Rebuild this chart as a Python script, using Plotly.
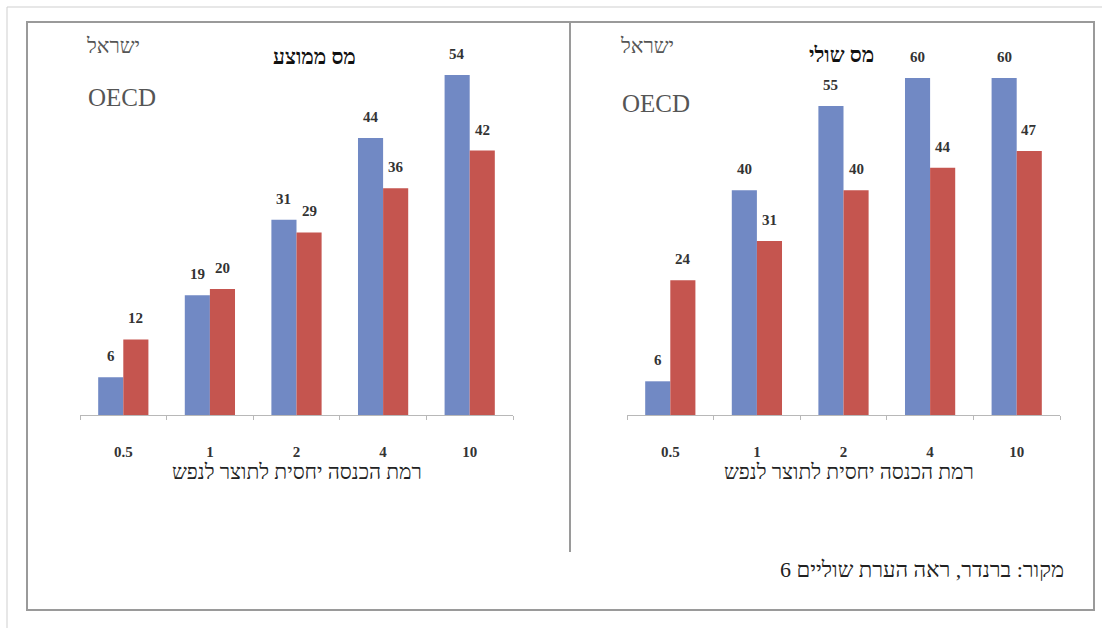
import plotly.graph_objects as go

# Income level relative to GDP per capita
categories = ["0.5", "1", "2", "4", "10"]

# Average tax rate (%)
avg_israel = [6, 19, 31, 44, 54]
avg_oecd = [12, 20, 29, 36, 42]

# Marginal tax rate (%)
marg_israel = [6, 40, 55, 60, 60]
marg_oecd = [24, 31, 40, 44, 47]

panel_titles = ["מס ממוצע", "מס שולי"]
legend_names = ["ישראל", "OECD"]
x_title = "רמת הכנסה יחסית לתוצר לנפש"
source_note = "מקור: ברנדר, ראה הערת שוליים 6"

W, H = 1102, 628
BLUE = "#7189C4"
RED = "#C5554F"
SERIF = "Liberation Serif"


def px(x):
    return x / W


def py(y):
    return 1 - y / H


def note(cx, cy, txt, size, color, bold=False, xanchor="center"):
    return dict(x=px(cx), y=py(cy), xref="paper", yref="paper", text=txt,
                showarrow=False, xanchor=xanchor, yanchor="middle",
                font=dict(family=SERIF, size=size, color=color,
                          weight="bold" if bold else "normal"))


fig = go.Figure()

panels = [
    dict(isr=avg_israel, oecd=avg_oecd, xa="x", ya="y", x0=80, x1=513, top=75, ymax=54),
    dict(isr=marg_israel, oecd=marg_oecd, xa="x2", ya="y2", x0=627, x1=1060, top=78, ymax=60),
]

annotations = []
for i, p in enumerate(panels):
    fig.add_trace(go.Bar(x=categories, y=p["isr"], name=legend_names[0], marker_color=BLUE,
                         marker_line_width=0, xaxis=p["xa"], yaxis=p["ya"], showlegend=False))
    fig.add_trace(go.Bar(x=categories, y=p["oecd"], name=legend_names[1], marker_color=RED,
                         marker_line_width=0, xaxis=p["xa"], yaxis=p["ya"], showlegend=False))
    suffix = "" if i == 0 else "2"
    fig.layout["xaxis" + suffix] = dict(
        domain=[px(p["x0"]), px(p["x1"])], anchor="y" + suffix, type="category",
        categoryorder="array", categoryarray=categories,
        range=[-0.5, len(categories) - 0.5],
        tickson="boundaries", ticks="outside", ticklen=4, tickcolor="#b8b8b8",
        showline=True, linecolor="#b8b8b8", linewidth=1, showgrid=False, zeroline=False,
        tickfont=dict(family=SERIF, size=15, color="#333333", weight="bold"),
        ticklabelstandoff=23, fixedrange=True,
    )
    fig.layout["yaxis" + suffix] = dict(
        domain=[py(415), py(p["top"])], anchor="x" + suffix, range=[0, p["ymax"]],
        visible=False, fixedrange=True,
    )
    # value labels above each bar (x given as category index)
    cat_w = (p["x1"] - p["x0"]) / len(categories)
    bar_w = cat_w * (1 - 0.42) / 2
    for vals, shift in ((p["isr"], -bar_w / 2), (p["oecd"], bar_w / 2)):
        for k, v in enumerate(vals):
            annotations.append(dict(
                x=k, y=v, xref=p["xa"], yref=p["ya"], text=str(v), showarrow=False,
                xshift=shift, yshift=21, xanchor="center", yanchor="middle",
                font=dict(family=SERIF, size=15, color="#333333", weight="bold"),
            ))

# panel titles
annotations.append(note(314, 57, panel_titles[0], 21, "#111111", bold=True))
annotations.append(note(841, 55, panel_titles[1], 21, "#111111", bold=True))
# series captions
for cx in (113, 647):
    annotations.append(note(cx, 46, legend_names[0], 21, "#555555"))
annotations.append(note(122, 98, legend_names[1], 25, "#555555"))
annotations.append(note(656, 103, legend_names[1], 25, "#555555"))
# axis titles
annotations.append(note(297, 472, x_title, 21, "#222222"))
annotations.append(note(849, 472, x_title, 21, "#222222"))
# source line
annotations.append(note(1066, 569, source_note, 22, "#222222", xanchor="right"))

shapes = [
    # outer page lines
    dict(type="line", xref="paper", yref="paper", x0=px(7), x1=1, y0=py(7), y1=py(7),
         line=dict(color="#cfcfcf", width=1)),
    dict(type="line", xref="paper", yref="paper", x0=px(7), x1=px(7), y0=py(7), y1=0,
         line=dict(color="#cfcfcf", width=1)),
    # frame around both panels
    dict(type="rect", xref="paper", yref="paper", x0=px(27), x1=px(1094), y0=py(610), y1=py(22),
         line=dict(color="#9a9a9a", width=2)),
    # divider between the panels
    dict(type="line", xref="paper", yref="paper", x0=px(570), x1=px(570), y0=py(22), y1=py(552),
         line=dict(color="#9a9a9a", width=2)),
]

fig.update_layout(
    width=W, height=H, margin=dict(l=0, r=0, t=0, b=0),
    paper_bgcolor="white", plot_bgcolor="white",
    barmode="group", bargap=0.42, bargroupgap=0,
    annotations=annotations, shapes=shapes, showlegend=False,
)

fig.write_html("out.html", config={"displayModeBar": False})
